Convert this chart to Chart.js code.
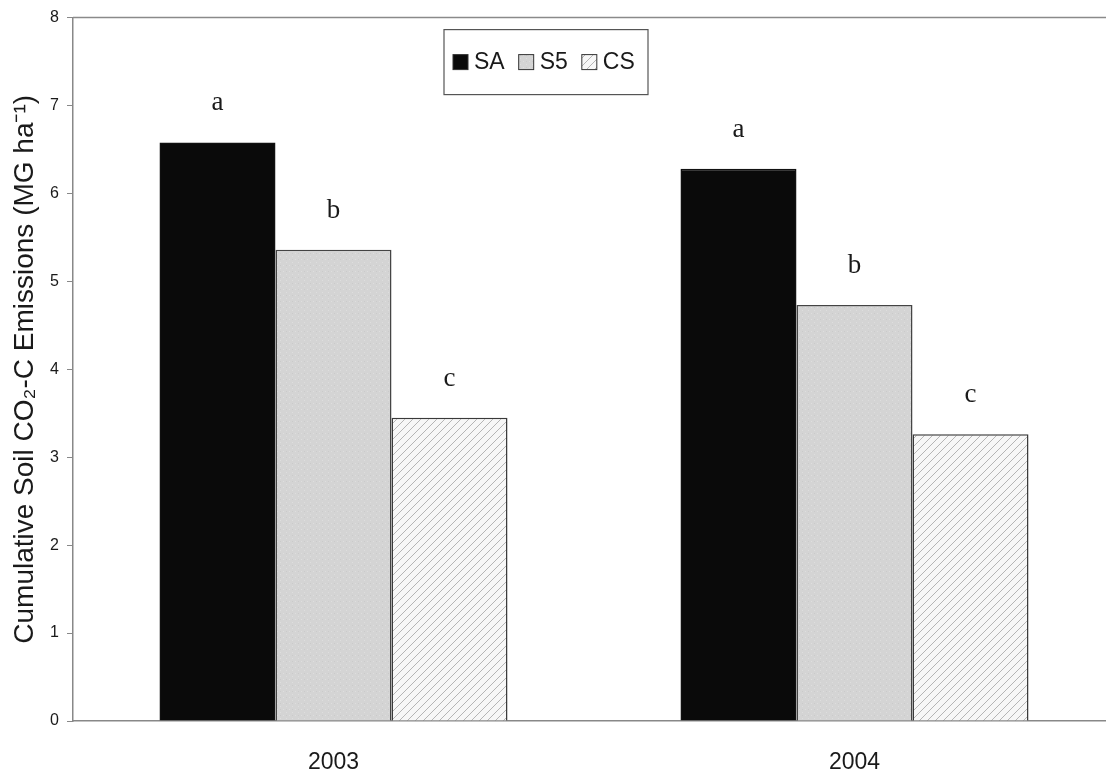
<!DOCTYPE html>
<html>
<head>
<meta charset="utf-8">
<script src="https://cdn.jsdelivr.net/npm/chart.js@4.4.1/dist/chart.umd.min.js"></script>
<style>
  html, body { margin: 0; padding: 0; background: #fff; overflow: hidden; }
  #wrap { width: 1115px; height: 777px; }
</style>
</head>
<body>
<div id="wrap"><canvas id="co2Chart" width="1115" height="777"></canvas></div>
<script>
// ========== Data ==========
const years = ['2003', '2004'];
const treatments = ['SA', 'S5', 'CS'];
const saValues = [6.58, 6.28];
const s5Values = [5.36, 4.73];
const csValues = [3.45, 3.26];
const saLetters = ['a', 'a'];
const s5Letters = ['b', 'b'];
const csLetters = ['c', 'c'];
const yTicks = [0, 1, 2, 3, 4, 5, 6, 7, 8];

const groupLetters = [saLetters, s5Letters, csLetters];

// ========== Fill patterns ==========
const co2Canvas = document.getElementById('co2Chart');
const co2Ctx = co2Canvas.getContext('2d');

function makePattern(size, draw) {
    const c = document.createElement('canvas');
    c.width = size;
    c.height = size;
    draw(c.getContext('2d'), size);
    return co2Ctx.createPattern(c, 'repeat');
}

// light grey stipple for S5
const s5Fill = makePattern(6, (g, s) => {
    g.fillStyle = '#d4d4d4';
    g.fillRect(0, 0, s, s);
    g.fillStyle = '#dedede';
    g.fillRect(1, 1, 1, 1);
    g.fillRect(4, 4, 1, 1);
    g.fillStyle = '#cacaca';
    g.fillRect(4, 1, 1, 1);
});

// diagonal hatching for CS
const csFill = makePattern(8, (g, s) => {
    g.fillStyle = '#f7f7f7';
    g.fillRect(0, 0, s, s);
    g.strokeStyle = '#b5b5b5';
    g.lineWidth = 1;
    g.beginPath();
    g.moveTo(0, s); g.lineTo(s, 0);
    g.moveTo(-1, 1); g.lineTo(1, -1);
    g.moveTo(s - 1, s + 1); g.lineTo(s + 1, s - 1);
    g.stroke();
});

const fills = ['#0a0a0a', s5Fill, csFill];

Chart.defaults.font.family = 'Arial, "Liberation Sans", sans-serif';

// ========== Letters, legend box, top frame ==========
const extras = {
    id: 'extras',
    afterDatasetsDraw(chart) {
        const ctx = chart.ctx;
        const area = chart.chartArea;
        ctx.save();

        // top frame line
        ctx.strokeStyle = '#8a8a8a';
        ctx.lineWidth = 1.5;
        ctx.beginPath();
        ctx.moveTo(area.left, area.top);
        ctx.lineTo(area.right, area.top);
        ctx.stroke();

        // significance letters
        ctx.font = '27px "Liberation Serif", "Times New Roman", serif';
        ctx.fillStyle = '#1a1a1a';
        ctx.textAlign = 'center';
        ctx.textBaseline = 'alphabetic';
        chart.data.datasets.forEach((ds, i) => {
            chart.getDatasetMeta(i).data.forEach((bar, j) => {
                ctx.fillText(groupLetters[i][j], bar.x, bar.y - 32);
            });
        });

        // legend
        const bx = area.left + 371, by = area.top + 12, bw = 204, bh = 65;
        ctx.fillStyle = '#fff';
        ctx.fillRect(bx, by, bw, bh);
        ctx.strokeStyle = '#555';
        ctx.lineWidth = 1.2;
        ctx.strokeRect(bx, by, bw, bh);
        ctx.font = '23px Arial, "Liberation Sans", sans-serif';
        ctx.textAlign = 'left';
        ctx.textBaseline = 'middle';
        const cy = by + bh / 2;
        let x = bx + 9;
        treatments.forEach((name, i) => {
            ctx.fillStyle = fills[i];
            ctx.fillRect(x, cy - 7.5, 15, 15);
            ctx.strokeStyle = '#333';
            ctx.lineWidth = 1;
            ctx.strokeRect(x, cy - 7.5, 15, 15);
            x += 21;
            ctx.fillStyle = '#1a1a1a';
            ctx.fillText(name, x, cy + 1);
            x += ctx.measureText(name).width + 14;
        });
        ctx.restore();
    }
};

// ========== Cumulative CO2-C Emissions ==========
new Chart(co2Canvas, {
    type: 'bar',
    data: {
        labels: years,
        datasets: [
            { label: 'SA', data: saValues, backgroundColor: fills[0], borderColor: '#111', borderWidth: 1.5 },
            { label: 'S5', data: s5Values, backgroundColor: fills[1], borderColor: '#444', borderWidth: 1.5 },
            { label: 'CS', data: csValues, backgroundColor: fills[2], borderColor: '#3a3a3a', borderWidth: 1.5 }
        ]
    },
    options: {
        responsive: false,
        animation: false,
        devicePixelRatio: 1,
        layout: { padding: { top: 15, left: 0, right: 0, bottom: 0 } },
        datasets: { bar: { barPercentage: 1, categoryPercentage: 0.668 } },
        plugins: { legend: { display: false }, tooltip: { enabled: false } },
        scales: {
            x: {
                grid: { display: false, drawTicks: false },
                border: { color: '#888', width: 1.5 },
                ticks: { padding: 28, color: '#1a1a1a', font: { size: 23 } },
                afterFit(scale) { scale.height = 56; }
            },
            y: {
                min: 0,
                max: 8,
                afterBuildTicks(scale) { scale.ticks = yTicks.map(v => ({ value: v })); },
                grid: { drawOnChartArea: false, tickLength: 6, color: '#888' },
                border: { color: '#888', width: 1.5 },
                ticks: { padding: 8, color: '#1a1a1a', font: { size: 16 } },
                title: {
                    display: true,
                    text: 'Cumulative Soil CO₂-C Emissions (MG ha⁻¹)',
                    color: '#1a1a1a',
                    font: { size: 28 },
                    padding: { top: 8, bottom: 0 }
                },
                afterFit(scale) { scale.width = 73; }
            }
        }
    },
    plugins: [extras]
});
</script>
</body>
</html>
